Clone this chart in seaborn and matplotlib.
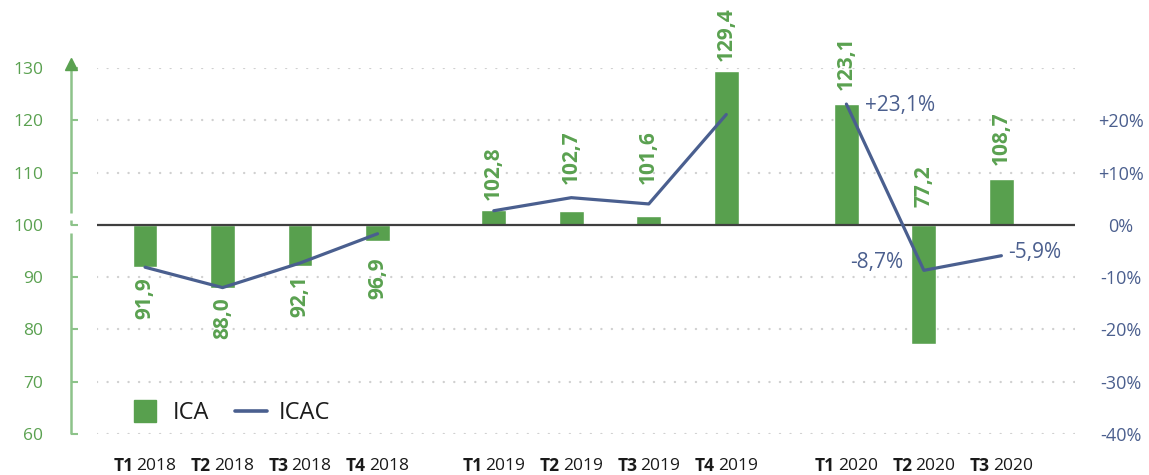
import numpy as np
import pandas as pd
import matplotlib
matplotlib.use("Agg")
import matplotlib.pyplot as plt
import matplotlib.transforms as mtransforms
from matplotlib.lines import Line2D
import seaborn as sns

# data (ICA index, base 100, and ICAC growth in %)
quarters = ["T1", "T2", "T3", "T4", "T1", "T2", "T3", "T4", "T1", "T2", "T3"]
years = ["2018"] * 4 + ["2019"] * 4 + ["2020"] * 3
ica = [91.9, 88.0, 92.1, 96.9, 102.8, 102.7, 101.6, 129.4, 123.1, 77.2, 108.7]
icac = [-8.1, -12.0, -7.3, -1.7, 2.7, 5.2, 4.0, 21.1, 23.1, -8.7, -5.9]
icac_labels = {8: "+23,1%", 9: "-8,7%", 10: "-5,9%"}
left_ticks = [60, 70, 80, 90, 100, 110, 120, 130]
right_ticks = [-40, -30, -20, -10, 0, 10, 20]

# x slots, with a gap between years
positions = [0, 1, 2, 3, 4.5, 5.5, 6.5, 7.5, 9.05, 10.05, 11.05]
# distance (px) between bar end and its value label
label_gap = [10, 10, 9, 16, 10, 27, 32, 10, 14, 18, 14]
BASE = 100

GREEN = "#58a04e"
GREEN_TXT = "#5aa150"
GREEN_AXIS = "#8dc38a"
BLUE = "#4a5f8f"
BLUE_TXT = "#4b5f8e"
FONT = ["Open Sans", "DejaVu Sans"]

sns.set_theme(style="white")
plt.rcParams["font.family"] = FONT

df = pd.DataFrame({"pos": positions, "year": years, "quarter": quarters,
                   "ica": ica, "icac": icac})
df["ica_dev"] = df["ica"] - BASE

W, H = 1149, 475
fig = plt.figure(figsize=(W / 100, H / 100), dpi=100)
ax = fig.add_axes([97 / W, 1 - 434 / H, (1075 - 97) / W, (434 - 68) / H])

# bars on the deviation scale (0 == 100 on the left axis)
sns.barplot(data=df, x="pos", y="ica_dev", native_scale=True, width=0.32,
            color=GREEN, saturation=1, errorbar=None, ax=ax, zorder=2)
sns.lineplot(data=df, x="pos", y="icac", units="year", estimator=None,
             color=BLUE, lw=2.3, ax=ax, zorder=4, legend=False)

ax.set_ylim(-40, 30)
ax.set_xlim(-0.62, 12.0)
ax.set_xlabel("")
ax.set_ylabel("")

# grid + base line
for v in left_ticks:
    if v == BASE:
        continue
    ax.axhline(v - BASE, color="#d0d0d0", lw=1.7, linestyle=(0, (0.05, 4.4)),
               dash_capstyle="round", zorder=0)
ax.axhline(0, color="#3f3f3f", lw=1.6, zorder=3)

for s in ax.spines.values():
    s.set_visible(False)

# left axis (index scale)
ax.spines["left"].set_position(("outward", 26.3 * 72 / 100))
ax.set_yticks([v - BASE for v in left_ticks])
ax.set_yticklabels([str(v) for v in left_ticks])
ax.tick_params(axis="y", direction="in", length=5, width=1.5, color=GREEN_AXIS,
               labelcolor=GREEN_TXT, labelsize=12.5, pad=20, left=True)
ax.set_xticks(positions)
ax.set_xticklabels([])
ax.tick_params(axis="x", length=0)

# hand drawn left spine with a break at 100 and an arrow on top
xs = -26.3 / 978
sp = mtransforms.blended_transform_factory(ax.transAxes, ax.transData)
for y0, y1 in [(-40, -1.6), (0.0, 0.9), (2.2, 30)]:
    ax.plot([xs, xs], [y0, y1], color=GREEN_AXIS, lw=1.8, transform=sp,
            clip_on=False, solid_capstyle="butt", zorder=5)
ax.plot([xs], [30.75], marker="^", ms=8.8, color=GREEN_TXT, transform=sp,
        clip_on=False, zorder=6)

# right axis (percent scale)
ax2 = ax.twinx()
ax2.set_ylim(-40, 30)
ax2.set_yticks(right_ticks)
ax2.set_yticklabels([f"+{v}%" if v > 0 else f"{v}%" for v in right_ticks])
ax2.tick_params(axis="y", length=0, pad=33, labelcolor=BLUE_TXT, labelsize=13)
for lbl in ax2.get_yticklabels():
    lbl.set_horizontalalignment("center")
for s in ax2.spines.values():
    s.set_visible(False)
ax2.grid(False)

# bar value labels
for i, (p, v) in enumerate(zip(positions, ica)):
    txt = f"{v:.1f}".replace(".", ",")
    dev = v - BASE
    off = label_gap[i] * 0.72
    if i == 9:
        xy, va = (p, 0), "bottom"
    elif dev >= 0:
        xy, va = (p, dev), "bottom"
    else:
        xy, off, va = (p, dev), -off, "top"
    ax.annotate(txt, xy=xy, xytext=(0, off), textcoords="offset points",
                rotation=90, ha="center", va=va, color=GREEN_TXT,
                fontsize=15, fontweight="bold", zorder=6)

# ICAC labels for 2020
icac_offsets = {8: (13.7, -1, "left"), 9: (-15, 6, "right"), 10: (5, 2, "left")}
for i, txt in icac_labels.items():
    dx, dy, ha = icac_offsets[i]
    ax.annotate(txt, xy=(positions[i], icac[i]), xytext=(dx, dy),
                textcoords="offset points", ha=ha, va="center",
                color=BLUE_TXT, fontsize=15, zorder=6)

# x labels: bold quarter + regular year
xt = mtransforms.blended_transform_factory(ax.transData, ax.transAxes)
pairs = []
for p, q, y in zip(positions, quarters, years):
    a = ax.annotate(q, xy=(p, 0), xycoords=xt, xytext=(0, -23),
                    textcoords="offset points", ha="left", va="center",
                    fontsize=12.5, fontweight="bold", color="#1a1a1a")
    b = ax.annotate(y, xy=(p, 0), xycoords=xt, xytext=(0, -23),
                    textcoords="offset points", ha="left", va="center",
                    fontsize=12.5, color="#1a1a1a")
    pairs.append((a, b))
fig.canvas.draw()
r = fig.canvas.get_renderer()
gap = 3
for a, b in pairs:
    w1 = a.get_window_extent(r).width
    w2 = b.get_window_extent(r).width
    start = -(w1 + gap + w2) / 2
    a.set_position((start * 0.72, -23))
    b.set_position(((start + w1 + gap) * 0.72, -23))

# legend
handles = [Line2D([], [], marker="s", ms=16.5, color=GREEN, ls="none", label="ICA"),
           Line2D([], [], color=BLUE, lw=2.6, label="ICAC")]
ax.legend(handles=handles, loc="center left", bbox_to_anchor=(0.033, 0.057),
          ncol=2, frameon=False, handlelength=1.35, handletextpad=0.5,
          columnspacing=1.1, fontsize=17, borderaxespad=0, borderpad=0,
          labelcolor="#1c1c1c")

fig.savefig("out.png", dpi=100)
